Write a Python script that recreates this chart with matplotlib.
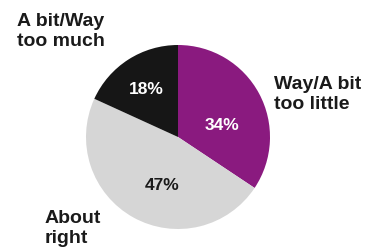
import matplotlib.pyplot as plt

# share of responses, clockwise from 12 o'clock
labels = ['Way/A bit\ntoo little', 'About\nright', 'A bit/Way\ntoo much']
values = [34, 47, 18]
pct_text = ['34%', '47%', '18%']
colors = ['#8a1a7f', '#d6d6d6', '#161616']
pct_colors = ['white', '#1a1a1a', 'white']

plt.rcParams['font.family'] = ['Liberation Sans', 'DejaVu Sans']

W, H = 382, 252
fig = plt.figure(figsize=(W / 100, H / 100), dpi=100)
ax = fig.add_axes([0, 0, 1, 1])

# pie in pixel coordinates (y measured from bottom)
cx, cy, r = 178, H - 137, 92
ax.pie(values, colors=colors, startangle=90, counterclock=False,
       center=(cx, cy), radius=r, frame=True,
       wedgeprops=dict(linewidth=0))
ax.set_xlim(0, W)
ax.set_ylim(0, H)
ax.set_aspect('equal')
ax.axis('off')

# percentage labels
pct_pos = [(222, 125), (162, 186), (146, 90)]
for t, c, (x, y) in zip(pct_text, pct_colors, pct_pos):
    ax.text(x, H - y, t, color=c, fontsize=12.5, fontweight='bold',
            ha='center', va='center')

# category labels
lab_pos = [(274, 76), (45, 210), (17, 13)]
for t, (x, y) in zip(labels, lab_pos):
    ax.text(x, H - y, t, color='#1a1a1a', fontsize=14, fontweight='bold',
            ha='left', va='top', linespacing=1.22)

fig.savefig('out.png', dpi=100)
